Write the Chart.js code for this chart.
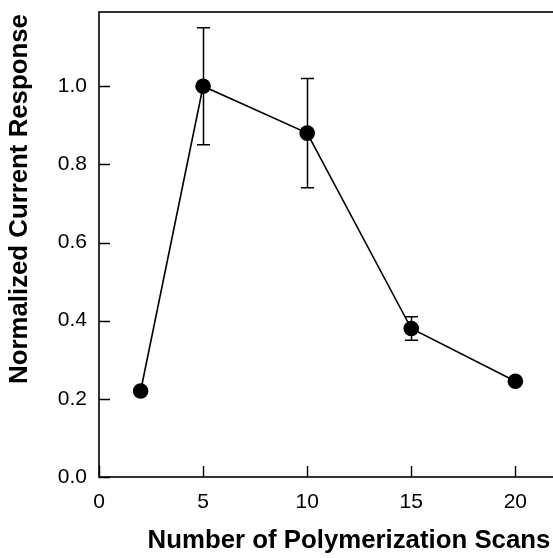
<!DOCTYPE html>
<html>
<head>
<meta charset="utf-8">
<script src="https://cdn.jsdelivr.net/npm/chart.js@4/dist/chart.umd.min.js"></script>
<style>
  html, body { margin: 0; padding: 0; background: #fff; overflow: hidden; }
  #wrap { width: 557px; height: 558px; position: relative; }
</style>
</head>
<body>
<div id="wrap"><canvas id="c"></canvas></div>
<script>
// Number of polymerization scans vs. normalized current response
const scans = [2, 5, 10, 15, 20];
const response = [0.22, 1.0, 0.88, 0.38, 0.245];
const errorSize = [0, 0.15, 0.14, 0.03, 0];
const xTicks = [0, 5, 10, 15, 20];
const yTicks = [0.0, 0.2, 0.4, 0.6, 0.8, 1.0];
const xTitle = 'Number of Polymerization Scans';
const yTitle = 'Normalized Current Response';

const tickFont = { family: 'Liberation Sans, Arial, sans-serif', size: 21 };
const titleFont = 'bold 25.8px "Liberation Sans", Arial, sans-serif';

// frame, inward ticks, error bars and axis titles
const decor = {
  id: 'decor',
  beforeDatasetsDraw(chart) {
    const { ctx, chartArea: a, scales: { x, y } } = chart;
    ctx.save();
    ctx.strokeStyle = '#000';
    ctx.lineWidth = 1.6;
    ctx.strokeRect(a.left, a.top, a.right - a.left, a.bottom - a.top);
    ctx.lineWidth = 1.4;
    ctx.beginPath();
    xTicks.forEach(v => {
      const px = Math.round(x.getPixelForValue(v)) + 0.5;
      ctx.moveTo(px, a.bottom);
      ctx.lineTo(px, a.bottom - 11);
    });
    yTicks.forEach(v => {
      const py = Math.round(y.getPixelForValue(v)) + 0.5;
      ctx.moveTo(a.left, py);
      ctx.lineTo(a.left + 11, py);
    });
    ctx.stroke();
    // error bars
    ctx.lineWidth = 1.5;
    ctx.beginPath();
    scans.forEach((s, i) => {
      const e = errorSize[i];
      if (!e) return;
      const px = Math.round(x.getPixelForValue(s)) + 0.5;
      const yt = y.getPixelForValue(response[i] + e);
      const yb = y.getPixelForValue(response[i] - e);
      ctx.moveTo(px, yt); ctx.lineTo(px, yb);
      ctx.moveTo(px - 6.5, yt); ctx.lineTo(px + 6.5, yt);
      ctx.moveTo(px - 6.5, yb); ctx.lineTo(px + 6.5, yb);
    });
    ctx.stroke();
    ctx.restore();
  },
  afterDraw(chart) {
    const { ctx } = chart;
    ctx.save();
    ctx.fillStyle = '#000';
    ctx.font = titleFont;
    ctx.textAlign = 'center';
    ctx.textBaseline = 'middle';
    ctx.fillText(xTitle, 349, 541);
    ctx.translate(20, 199);
    ctx.rotate(-Math.PI / 2);
    ctx.fillText(yTitle, 0, 0);
    ctx.restore();
  }
};

new Chart(document.getElementById('c'), {
  type: 'scatter',
  data: {
    datasets: [{
      data: scans.map((s, i) => ({ x: s, y: response[i] })),
      showLine: true,
      borderColor: '#000',
      borderWidth: 1.6,
      backgroundColor: '#000',
      pointRadius: 7.8,
      pointHoverRadius: 7.8,
      pointBorderWidth: 0,
      tension: 0
    }]
  },
  options: {
    responsive: true,
    maintainAspectRatio: false,
    animation: false,
    events: [],
    layout: { autoPadding: false, padding: { top: 12, right: 0, bottom: 0, left: 0 } },
    plugins: { legend: { display: false }, tooltip: { enabled: false } },
    scales: {
      x: {
        type: 'linear', min: 0, max: 22,
        grid: { display: false, drawTicks: false },
        border: { display: false },
        afterBuildTicks: s => { s.ticks = xTicks.map(v => ({ value: v })); },
        afterFit: s => { s.height = 81; s.paddingLeft = 0; s.paddingRight = 0; },
        ticks: { color: '#000', font: tickFont, padding: 13, maxRotation: 0,
                 callback: v => String(v) }
      },
      y: {
        type: 'linear', min: 0, max: 1.19,
        grid: { display: false, drawTicks: false },
        border: { display: false },
        afterBuildTicks: s => { s.ticks = yTicks.map(v => ({ value: v })); },
        afterFit: s => { s.width = 99; s.paddingTop = 0; s.paddingBottom = 0; },
        ticks: { color: '#000', font: tickFont, padding: 12,
                 callback: v => Number(v).toFixed(1) }
      }
    }
  },
  plugins: [decor]
});
</script>
</body>
</html>
